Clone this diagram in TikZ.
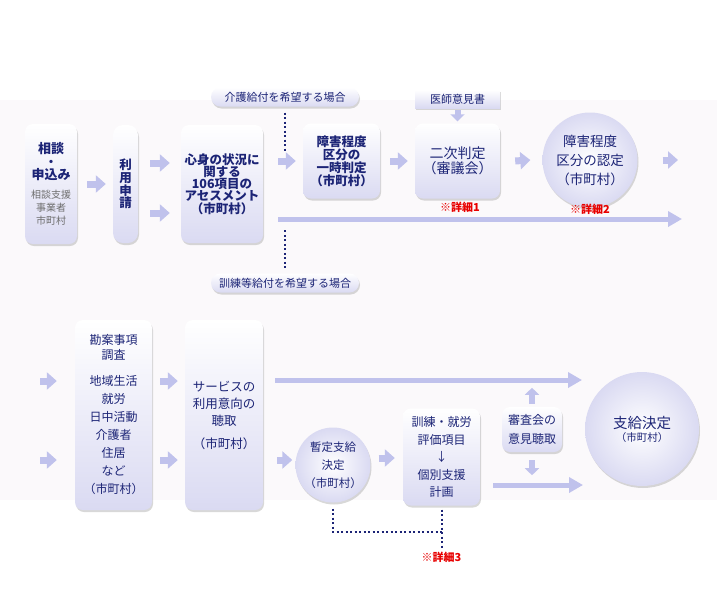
\documentclass[tikz,border=0pt]{standalone}
\usepackage{fontspec}
\setmainfont{Noto Sans CJK JP}
\usetikzlibrary{arrows.meta, positioning, shadows}
\definecolor{navy}{RGB}{28,36,118}
\definecolor{lav}{RGB}{218,218,242}
\definecolor{arrowlav}{RGB}{192,194,236}
\definecolor{band}{RGB}{251,249,251}
\definecolor{gtext}{RGB}{110,110,110}
\definecolor{notered}{RGB}{232,0,0}

\begin{document}
\begin{tikzpicture}[x=1pt,y=-1pt]
    % styles
    \tikzset{
        card/.style={rectangle,rounded corners=8pt,top color=white,bottom color=lav,
            drop shadow={shadow xshift=1pt,shadow yshift=-2pt,opacity=0.25,fill=black!60},
            text=navy,align=center,inner sep=0pt,font=\fontsize{12}{13}\selectfont},
        disc/.style={circle,inner color=white,outer color=lav,
            drop shadow={shadow xshift=1pt,shadow yshift=-2pt,opacity=0.25,fill=black!60},
            text=navy,align=center,inner sep=0pt},
        pill/.style={card,rounded corners=9.5pt,minimum width=148pt,minimum height=19pt,
            font=\fontsize{11}{11}\selectfont},
        fat/.style={draw=arrowlav,line width=7pt,-{Triangle[width=17pt,length=10pt]}},
        fatv/.style={draw=arrowlav,line width=6pt,-{Triangle[width=14pt,length=7pt]}},
        long/.style={draw=arrowlav,line width=5pt,-{Triangle[width=15pt,length=14pt]}},
        dots/.style={draw=navy,line width=2pt,dash pattern=on 2pt off 2.5pt},
        note/.style={text=notered,font=\fontsize{11}{11}\selectfont\bfseries}
    }
    \useasboundingbox (0,0) rectangle (717,600);
    \fill[white] (0,0) rectangle (717,600);
    \fill[band] (0,100) rectangle (717,500);

    % first row
    \node[card,minimum width=52pt,minimum height=120pt] (soudan) at (51,184)
        {{\fontsize{13}{13}\selectfont\bfseries 相談}\\{\bfseries ・}\\{\fontsize{13}{13}\selectfont\bfseries 申込み}\\[6pt]
         {\color{gtext}\fontsize{10}{13}\selectfont 相談支援}\\
         {\color{gtext}\fontsize{10}{13}\selectfont 事業者}\\
         {\color{gtext}\fontsize{10}{13}\selectfont 市町村}};
    \node[card,rounded corners=10pt,minimum width=25pt,minimum height=118pt,
        font=\fontsize{12.5}{12.7}\selectfont\bfseries] (riyou) at (125.5,184) {利\\用\\申\\請};
    \node[card,minimum width=82pt,minimum height=118pt,
        font=\fontsize{12.5}{12.2}\selectfont\bfseries] (assess) at (222,184)
        {心身の状況に\\関する\\106項目の\\アセスメント\\（市町村）};
    \node[card,minimum width=77pt,minimum height=75pt,
        font=\fontsize{12.5}{11.5}\selectfont\bfseries] (hantei) at (341.5,161)
        {障害程度\\区分の\\一時判定\\（市町村）};
    \node[card,minimum width=85pt,minimum height=75pt,
        font=\fontsize{14}{15}\selectfont] (niji) at (457.5,161) {二次判定\\（審議会）};
    \node[card,rounded corners=0pt,minimum width=85pt,minimum height=18pt,
        font=\fontsize{11}{11}\selectfont] (ishi) at (457.5,99) {医師意見書};
    \node[disc,minimum size=95pt,font=\fontsize{13.5}{19}\selectfont] (nintei) at (590,160)
        {障害程度\\区分の認定\\（市町村）};
    \node[pill] (kaigo) at (285,97) {介護給付を希望する場合};
    \node[pill] (kunren) at (285,283) {訓練等給付を希望する場合};
    \node[note] (d1) at (460,207) {※詳細1};
    \node[note] (d2) at (590,209) {※詳細2};

    % second row
    \node[card,minimum width=77pt,minimum height=190pt,
        font=\fontsize{12}{18}\selectfont] (kanan) at (113.5,415)
        {勘案事項\\[-3pt]調査\\[8pt]地域生活\\就労\\日中活動\\介護者\\住居\\など\\（市町村）};
    \node[card,minimum width=78pt,minimum height=190pt,
        font=\fontsize{12.5}{17}\selectfont] (service) at (224,415)
        {サービスの\\利用意向の\\聴取\\[6pt]（市町村）};
    \node[disc,minimum size=75pt,font=\fontsize{11.5}{18}\selectfont] (zantei) at (333,465)
        {暫定支給\\決定\\（市町村）};
    \node[card,minimum width=77pt,minimum height=97pt,
        font=\fontsize{12}{17.5}\selectfont] (hyouka) at (441.5,457)
        {訓練・就労\\評価項目\\↓\\個別支援\\計画};
    \node[card,minimum width=60pt,minimum height=45pt,
        font=\fontsize{12}{19}\selectfont] (shinsa) at (532,429.5) {審査会の\\意見聴取};
    \node[disc,minimum size=114pt] (kettei) at (642,429)
        {{\fontsize{14.5}{16}\selectfont 支給決定}\\[1pt]{\fontsize{10.5}{12}\selectfont （市町村）}};
    \node[note] (d3) at (441.5,557) {※詳細3};

    % free ends
    \coordinate (nextrow) at (678,160);
    \coordinate (endtop) at (682,219);
    \coordinate (in1) at (40,381);
    \coordinate (in2) at (40,460);
    \coordinate (endmid) at (582,380);
    \coordinate (endlow) at (583,485);
    \coordinate (j3) at (441.5,532);

    % arrows, first row
    \draw[fat] ([xshift=10pt]soudan.east) -- ([xshift=-7pt]riyou.west);
    \draw[fat] ([xshift=12pt,yshift=21pt]riyou.east) -- ([xshift=-11pt,yshift=21pt]assess.west);
    \draw[fat] ([xshift=12pt,yshift=-29pt]riyou.east) -- ([xshift=-11pt,yshift=-29pt]assess.west);
    \draw[fat] ([xshift=15pt,yshift=23pt]assess.east) -- ([xshift=-7pt]hantei.west);
    \draw[fat] ([xshift=10pt]hantei.east) -- ([xshift=-7pt]niji.west);
    \draw[fat] ([xshift=15pt]niji.east) -- ([xshift=-12pt]nintei.west);
    \draw[fat] ([xshift=25pt]nintei.east) -- (nextrow);
    \draw[fatv] ([yshift=-2pt]ishi.south) -- ([yshift=2pt]niji.north);
    \draw[long] ([xshift=15pt,yshift=-35pt]assess.east) -- (endtop);
    \draw[dots] ([yshift=-6pt]kaigo.south) -- ([yshift=-44pt]kaigo.south);
    \draw[dots] ([yshift=43pt]kunren.north) -- ([yshift=5pt]kunren.north);

    % arrows, second row
    \draw[fat] (in1) -- ([xshift=-18pt,yshift=34pt]kanan.west);
    \draw[fat] (in2) -- ([xshift=-18pt,yshift=-45pt]kanan.west);
    \draw[fat] ([xshift=8pt,yshift=34pt]kanan.east) -- ([xshift=-7pt,yshift=34pt]service.west);
    \draw[fat] ([xshift=8pt,yshift=-45pt]kanan.east) -- ([xshift=-7pt,yshift=-45pt]service.west);
    \draw[fat] ([xshift=14pt,yshift=-45pt]service.east) -- ([xshift=-3pt,yshift=5pt]zantei.west);
    \draw[long] ([xshift=12pt,yshift=35pt]service.east) -- (endmid);
    \draw[fat] ([xshift=8pt,yshift=7pt]zantei.east) -- ([xshift=-8pt,yshift=-1pt]hyouka.west);
    \draw[long] ([xshift=13pt,yshift=-28pt]hyouka.east) -- (endlow);
    \draw[fatv] ([yshift=3pt]shinsa.north) -- ([yshift=19pt]shinsa.north);
    \draw[fatv] ([yshift=-8pt]shinsa.south) -- ([yshift=-23pt]shinsa.south);
    \draw[dots] ([yshift=-6pt]zantei.south) |- (j3);
    \draw[dots] ([yshift=-4pt]hyouka.south) -- ([yshift=-1pt]d3.north);
\end{tikzpicture}
\end{document}
